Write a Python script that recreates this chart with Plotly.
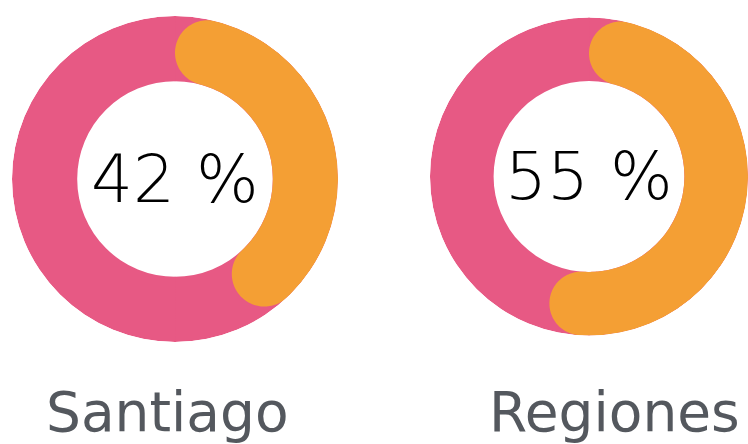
import numpy as np
import plotly.graph_objects as go

# ---- data ----
regions = ["Santiago", "Regiones"]
shares = [42, 55]            # percent shown in orange

# ---- style ----
PINK = "#E75984"
ORANGE = "#F49F34"
GRAY = "#54585E"
R_IN, R_OUT = 0.6, 1.0

domains = [
    dict(x=[12 / 748, 338 / 748], y=[1 - 342 / 444, 1 - 16 / 444]),
    dict(x=[430 / 748, 1.0], y=[1 - 335.5 / 444, 1 - 17.5 / 444]),
]
centers = [(175, 179.5), (589, 176.5)]
label_x = [167, 614]


def rounded_arc(pct):
    """Polygon (r, theta) of a ring segment with round caps spanning pct of the circle."""
    r_mid = (R_IN + R_OUT) / 2
    h = (R_OUT - R_IN) / 2
    cap = np.degrees(np.arcsin(h / r_mid))
    ts, te = cap, pct / 100 * 360 - cap
    pts = []
    for t in np.linspace(ts, te, 300):
        pts.append((R_OUT, t))

    def cap_pts(tc, sign, phis):
        a = np.radians(tc)
        cx, cy = r_mid * np.sin(a), r_mid * np.cos(a)
        u = np.array([np.sin(a), np.cos(a)])
        tv = np.array([np.cos(a), -np.sin(a)]) * sign
        out = []
        for p in phis:
            x, y = np.array([cx, cy]) + h * (np.cos(p) * u + np.sin(p) * tv)
            out.append((np.hypot(x, y), np.degrees(np.arctan2(x, y)) % 360))
        return out

    pts += cap_pts(te, 1, np.linspace(0, np.pi, 60))
    for t in np.linspace(te, ts, 300):
        pts.append((R_IN, t))
    pts += cap_pts(ts, -1, np.linspace(np.pi, 0, 60))
    r = [p[0] for p in pts]
    th = [p[1] for p in pts]
    return r, th


fig = go.Figure()
for i, (name, v) in enumerate(zip(regions, shares)):
    sub = "polar" if i == 0 else "polar2"
    fig.add_trace(go.Barpolar(
        r=[R_OUT - R_IN, R_OUT - R_IN], base=[R_IN, R_IN], theta=[90, 270], width=[180.5, 180.5],
        marker=dict(color=PINK, line=dict(width=0)), subplot=sub, hoverinfo="skip",
    ))
    r, th = rounded_arc(v)
    fig.add_trace(go.Scatterpolar(
        r=r, theta=th, mode="lines", fill="toself", fillcolor=ORANGE,
        line=dict(width=0, color=ORANGE), subplot=sub, hoverinfo="skip",
    ))
    cx, cy = centers[i]
    fig.add_annotation(
        x=cx / 748, y=1 - cy / 444, xref="paper", yref="paper", text=f"{v} %",
        showarrow=False, xanchor="center", yanchor="middle",
        font=dict(family="DejaVu Sans", size=66, color="#000000", weight=200),
    )
    fig.add_annotation(
        x=label_x[i] / 748, y=1 - 412 / 444, xref="paper", yref="paper", text=name,
        showarrow=False, xanchor="center", yanchor="middle",
        font=dict(family="DejaVu Sans", size=55, color=GRAY),
    )

polar_common = dict(
    bgcolor="rgba(0,0,0,0)",
    radialaxis=dict(range=[0, R_OUT], visible=False, showgrid=False),
    angularaxis=dict(direction="clockwise", rotation=90, visible=False, showgrid=False),
    barmode="overlay",
)
fig.update_layout(
    width=748, height=444, margin=dict(l=0, r=0, t=0, b=0),
    paper_bgcolor="white", plot_bgcolor="white", showlegend=False,
    polar=dict(domain=domains[0], **polar_common),
    polar2=dict(domain=domains[1], **polar_common),
)
fig.write_html("out.html")
